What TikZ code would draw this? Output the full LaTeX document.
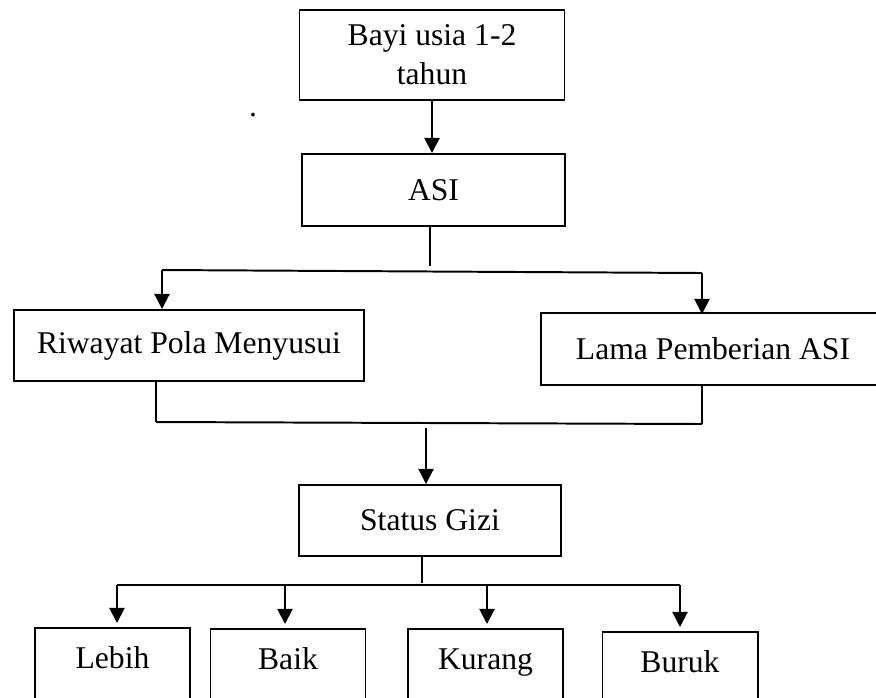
\documentclass[tikz,border=0pt]{standalone}
\usepackage{fontspec}
\setmainfont{Liberation Serif}
\usetikzlibrary{positioning,arrows.meta,calc}
\tikzset{
  flowarrow/.style={-{Triangle[length=3.8mm, width=3.8mm]}, line width=1.4pt},
  plainline/.style={line width=1.4pt},
  thinline/.style={line width=0.9pt},
  mainbox/.style={draw, line width=1.4pt, align=center, inner sep=0pt},
  leafbox/.style={draw, line width=1.4pt, anchor=north, minimum width=38.75mm, inner xsep=0pt, inner ysep=0pt, text height=10mm, text depth=16mm}
}

\begin{document}
\begin{tikzpicture}[x=0.25mm, y=-0.25mm, every node/.style={font=\fontsize{22.5}{27.5}\selectfont}]
  \useasboundingbox (0,0) rectangle (876,697);
  \node[mainbox, minimum width=66.25mm, minimum height=22.5mm] (bayi) at (432,55) {Bayi usia 1-2\\tahun};
  \node (dot) at (253,115) {.};
  \node[mainbox, minimum width=65.75mm, minimum height=18mm] (asi) at (433.5,190) {ASI};
  \node[mainbox, minimum width=87.5mm, minimum height=17.75mm] (riwayat) at (189,345.5) {Riwayat Pola Menyusui};
  \node[mainbox, minimum width=86mm, minimum height=18mm] (lama) at (713,349) {Lama Pemberian ASI};
  \node[mainbox, minimum width=65.5mm, minimum height=17.75mm] (status) at (430,520.5) {Status Gizi};
  \node[leafbox] (lebih) at (112.5,627) {Lebih};
  \node[leafbox] (baik) at (288,628) {Baik};
  \node[leafbox] (kurang) at (485.5,628) {Kurang};
  \node[leafbox] (buruk) at (680,631) {Buruk};

  % bayi -> asi -> two branches
  \draw[flowarrow] (bayi.south) -- (bayi.south |- asi.north);
  \coordinate (asiL) at (162,270);
  \coordinate (asiR) at (702,273);
  \draw[thinline] ([xshift=-0.9mm]asi.south) -- ([xshift=-0.9mm]asi.south |- 0,266);
  \draw[plainline] (asiL) -- (asiR);
  \draw[flowarrow] (asiL) -- (asiL |- riwayat.north);
  \draw[flowarrow] (asiR) -- ([yshift=-0.5mm]asiR |- lama.north);

  % branches join -> status gizi
  \coordinate (joinL) at (156,422);
  \coordinate (joinR) at (702,424);
  \coordinate (joinM) at (426,428);
  \draw[thinline] (joinL |- riwayat.south) -- (joinL);
  \draw[thinline] (joinR |- lama.south) -- (joinR);
  \draw[plainline] (joinL) -- (joinR);
  \draw[flowarrow] (joinM) -- (joinM |- status.north);

  % status gizi -> categories
  \coordinate (gizL) at (117,585);
  \coordinate (gizR) at (680,585);
  \draw[thinline] ([xshift=-2mm]status.south) -- ([xshift=-2mm]status.south |- 0,583);
  \draw[plainline] (gizL) -- (gizR);
  \foreach \leaf/\x in {lebih/117, baik/285, kurang/487, buruk/680}
    \draw[flowarrow, shorten >=1mm] (\x,585) -- (\x,585 |- \leaf.north);
\end{tikzpicture}
\end{document}
